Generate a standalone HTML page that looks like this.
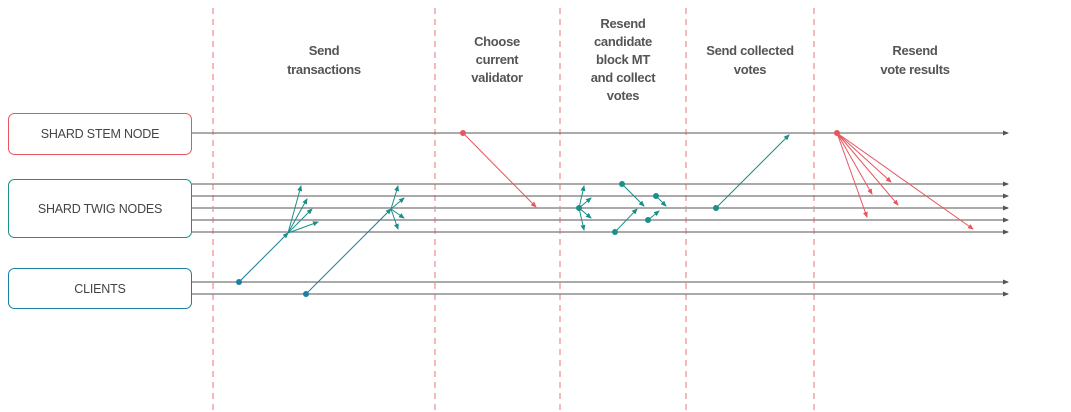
<!DOCTYPE html>
<html><head><style>
body{margin:0;background:#fff;width:1071px;height:412px;overflow:hidden;font-family:"Liberation Sans",sans-serif;}
svg{position:absolute;left:0;top:0}
text{font-family:"Liberation Sans",sans-serif;fill:#555;}
.h{font-size:13px;font-weight:bold;text-anchor:middle;letter-spacing:-0.3px}
.b{font-size:12.5px;text-anchor:middle;fill:#444;letter-spacing:-0.2px}
</style></head><body>
<svg width="1071" height="412" viewBox="0 0 1071 412">
<defs>
<marker id="g" markerWidth="6" markerHeight="6" refX="5" refY="3" orient="auto" markerUnits="userSpaceOnUse"><path d="M0,0.5L6,3L0,5.5z" fill="#555"/></marker>
<marker id="t" markerWidth="6" markerHeight="6" refX="5" refY="3" orient="auto" markerUnits="userSpaceOnUse"><path d="M0,0.5L6,3L0,5.5z" fill="#1a8f88"/></marker>
<marker id="r" markerWidth="6" markerHeight="6" refX="5" refY="3" orient="auto" markerUnits="userSpaceOnUse"><path d="M0,0.5L6,3L0,5.5z" fill="#e8555f"/></marker>
</defs>
<g stroke="#ee8a90" stroke-width="1.2" stroke-dasharray="6,5">
<line x1="213" y1="8" x2="213" y2="412"/><line x1="435" y1="8" x2="435" y2="412"/><line x1="560" y1="8" x2="560" y2="412"/><line x1="686" y1="8" x2="686" y2="412"/><line x1="814" y1="8" x2="814" y2="412"/>
</g>
<g stroke="#777" stroke-width="1.2" marker-end="url(#g)">
<line x1="192" y1="133" x2="1008" y2="133"/>
<line x1="192" y1="184" x2="1008" y2="184"/><line x1="192" y1="196" x2="1008" y2="196"/>
<line x1="192" y1="208" x2="1008" y2="208" stroke="#aaa" stroke-width="2"/>
<line x1="192" y1="220" x2="1008" y2="220"/><line x1="192" y1="232" x2="1008" y2="232"/>
<line x1="192" y1="282" x2="1008" y2="282"/><line x1="192" y1="294" x2="1008" y2="294"/>
</g>
<rect x="8.5" y="113.5" width="183" height="41" rx="6" fill="#fff" stroke="#e8555f"/>
<rect x="8.5" y="179.5" width="183" height="58" rx="6" fill="#fff" stroke="#1a8f88"/>
<rect x="8.5" y="268.5" width="183" height="40" rx="6" fill="#fff" stroke="#1a7fa0"/>
<text class="b" x="100" y="138">SHARD STEM NODE</text>
<text class="b" x="100" y="213">SHARD TWIG NODES</text>
<text class="b" x="100" y="293">CLIENTS</text>
<text class="h" x="324" y="55">Send</text><text class="h" x="324" y="74">transactions</text>
<text class="h" x="497" y="46">Choose</text><text class="h" x="497" y="64">current</text><text class="h" x="497" y="82">validator</text>
<text class="h" x="623" y="28">Resend</text><text class="h" x="623" y="46">candidate</text><text class="h" x="623" y="64">block MT</text><text class="h" x="623" y="82">and collect</text><text class="h" x="623" y="100">votes</text>
<text class="h" x="750" y="55">Send collected</text><text class="h" x="750" y="74">votes</text>
<text class="h" x="915" y="55">Resend</text><text class="h" x="915" y="74">vote results</text>
<g stroke="#1a7fa0" stroke-width="1" marker-end="url(#t)">
<line x1="239" y1="282" x2="288" y2="233"/><line x1="306" y1="294" x2="391" y2="209"/>
</g>
<g stroke="#1a8f88" stroke-width="1" marker-end="url(#t)">
<line x1="288" y1="233" x2="301" y2="186"/><line x1="288" y1="233" x2="307" y2="199"/><line x1="288" y1="233" x2="312" y2="209"/><line x1="288" y1="233" x2="318" y2="222"/>
<line x1="391" y1="209" x2="398" y2="186"/><line x1="391" y1="209" x2="404" y2="198"/><line x1="391" y1="209" x2="404" y2="218"/><line x1="391" y1="209" x2="398" y2="229"/>
<line x1="579" y1="208" x2="584" y2="186"/><line x1="579" y1="208" x2="591" y2="198"/><line x1="579" y1="208" x2="591" y2="218"/><line x1="579" y1="208" x2="584" y2="230"/>
<line x1="622" y1="184" x2="644" y2="206"/><line x1="615" y1="232" x2="637" y2="209"/><line x1="656" y1="196" x2="666" y2="206"/><line x1="648" y1="220" x2="659" y2="211"/>
<line x1="716" y1="208" x2="789" y2="135"/>
</g>
<g fill="#1a7fa0"><circle cx="239" cy="282" r="3"/><circle cx="306" cy="294" r="3"/></g>
<g fill="#1a8f88"><circle cx="579" cy="208" r="3"/><circle cx="622" cy="184" r="3"/><circle cx="615" cy="232" r="3"/><circle cx="656" cy="196" r="3"/><circle cx="648" cy="220" r="3"/><circle cx="716" cy="208" r="3"/></g>
<g stroke="#e8555f" stroke-width="1" marker-end="url(#r)">
<line x1="463" y1="133" x2="536" y2="207"/>
<line x1="837" y1="133" x2="891" y2="182"/><line x1="837" y1="133" x2="872" y2="194"/><line x1="837" y1="133" x2="898" y2="205"/><line x1="837" y1="133" x2="867" y2="217"/><line x1="837" y1="133" x2="973" y2="229"/>
</g>
<g fill="#e8555f"><circle cx="463" cy="133" r="3"/><circle cx="837" cy="133" r="3"/></g>
</svg>
</body></html>
